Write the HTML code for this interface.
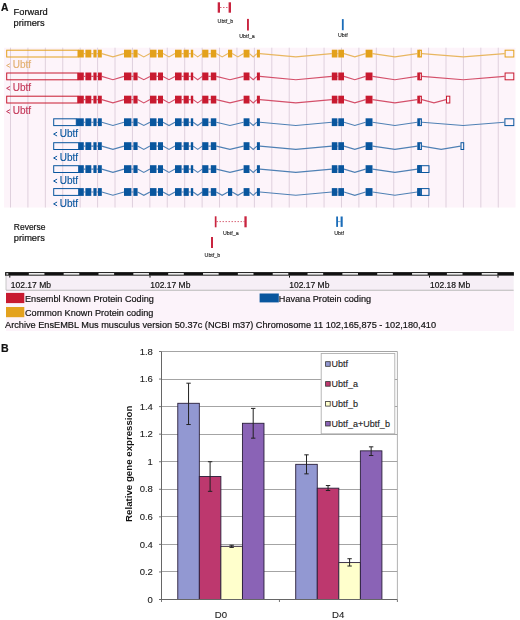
<!DOCTYPE html>
<html><head><meta charset="utf-8"><style>
html,body{margin:0;padding:0;background:#fff;}
body{width:520px;height:620px;overflow:hidden;}
svg{display:block;filter:blur(0.3px);font-family:"Liberation Sans",sans-serif;}
</style></head><body>
<svg width="520" height="620" viewBox="0 0 520 620">
<rect x="4" y="47.7" width="511.5" height="159.8" fill="#fdf4fa"/>
<line x1="10.50" y1="47.7" x2="10.50" y2="207.5" stroke="#dfd0dd" stroke-width="1"/>
<line x1="27.92" y1="47.7" x2="27.92" y2="207.5" stroke="#dfd0dd" stroke-width="1"/>
<line x1="45.34" y1="47.7" x2="45.34" y2="207.5" stroke="#dfd0dd" stroke-width="1"/>
<line x1="62.76" y1="47.7" x2="62.76" y2="207.5" stroke="#dfd0dd" stroke-width="1"/>
<line x1="80.18" y1="47.7" x2="80.18" y2="207.5" stroke="#dfd0dd" stroke-width="1"/>
<line x1="97.60" y1="47.7" x2="97.60" y2="207.5" stroke="#dfd0dd" stroke-width="1"/>
<line x1="115.02" y1="47.7" x2="115.02" y2="207.5" stroke="#dfd0dd" stroke-width="1"/>
<line x1="132.44" y1="47.7" x2="132.44" y2="207.5" stroke="#dfd0dd" stroke-width="1"/>
<line x1="149.86" y1="47.7" x2="149.86" y2="207.5" stroke="#dfd0dd" stroke-width="1"/>
<line x1="167.28" y1="47.7" x2="167.28" y2="207.5" stroke="#dfd0dd" stroke-width="1"/>
<line x1="184.70" y1="47.7" x2="184.70" y2="207.5" stroke="#dfd0dd" stroke-width="1"/>
<line x1="202.12" y1="47.7" x2="202.12" y2="207.5" stroke="#dfd0dd" stroke-width="1"/>
<line x1="219.54" y1="47.7" x2="219.54" y2="207.5" stroke="#dfd0dd" stroke-width="1"/>
<line x1="236.96" y1="47.7" x2="236.96" y2="207.5" stroke="#dfd0dd" stroke-width="1"/>
<line x1="254.38" y1="47.7" x2="254.38" y2="207.5" stroke="#dfd0dd" stroke-width="1"/>
<line x1="271.80" y1="47.7" x2="271.80" y2="207.5" stroke="#dfd0dd" stroke-width="1"/>
<line x1="289.22" y1="47.7" x2="289.22" y2="207.5" stroke="#dfd0dd" stroke-width="1"/>
<line x1="306.64" y1="47.7" x2="306.64" y2="207.5" stroke="#dfd0dd" stroke-width="1"/>
<line x1="324.06" y1="47.7" x2="324.06" y2="207.5" stroke="#dfd0dd" stroke-width="1"/>
<line x1="341.48" y1="47.7" x2="341.48" y2="207.5" stroke="#dfd0dd" stroke-width="1"/>
<line x1="358.90" y1="47.7" x2="358.90" y2="207.5" stroke="#dfd0dd" stroke-width="1"/>
<line x1="376.32" y1="47.7" x2="376.32" y2="207.5" stroke="#dfd0dd" stroke-width="1"/>
<line x1="393.74" y1="47.7" x2="393.74" y2="207.5" stroke="#dfd0dd" stroke-width="1"/>
<line x1="411.16" y1="47.7" x2="411.16" y2="207.5" stroke="#dfd0dd" stroke-width="1"/>
<line x1="428.58" y1="47.7" x2="428.58" y2="207.5" stroke="#dfd0dd" stroke-width="1"/>
<line x1="446.00" y1="47.7" x2="446.00" y2="207.5" stroke="#dfd0dd" stroke-width="1"/>
<line x1="463.42" y1="47.7" x2="463.42" y2="207.5" stroke="#dfd0dd" stroke-width="1"/>
<line x1="480.84" y1="47.7" x2="480.84" y2="207.5" stroke="#dfd0dd" stroke-width="1"/>
<line x1="498.26" y1="47.7" x2="498.26" y2="207.5" stroke="#dfd0dd" stroke-width="1"/>
<rect x="6.70" y="50.20" width="71.30" height="6.80" fill="none" stroke="#e3a11c" stroke-width="1"/>
<path d="M83.80,53.60 L85.40,53.60 M91.30,53.60 L93.40,53.60 M96.60,53.60 L98.00,53.60 M101.80,53.60 L112.90,56.90 L124.00,53.60 M131.40,53.60 L133.40,53.60 M137.60,53.60 L143.80,56.90 L150.00,53.60 M156.50,53.60 L158.00,53.60 M163.00,53.60 L169.00,56.90 L175.00,53.60 M181.60,53.60 L183.60,53.60 M188.80,53.60 L190.80,53.60 M193.20,53.60 L197.70,56.90 L202.20,53.60 M208.40,53.60 L210.80,53.60 M216.30,53.60 L222.15,56.90 L228.00,53.60 M232.20,53.60 L237.90,56.90 L243.60,53.60 M249.50,53.60 L253.20,56.90 L256.90,53.60 M259.90,53.60 L295.85,56.90 L331.80,53.60 M337.40,53.60 L338.30,53.60 M344.00,53.60 L354.80,56.90 L365.60,53.60 M372.50,53.60 L394.90,56.90 L417.30,53.60 M421.90,53.60 L463.25,56.90 L504.60,53.60" fill="none" stroke="#e8b660" stroke-width="1.1"/>
<rect x="78.00" y="49.70" width="5.80" height="7.80" fill="#e3a11c"/>
<rect x="85.40" y="49.70" width="5.90" height="7.80" fill="#e3a11c"/>
<rect x="93.40" y="49.70" width="3.20" height="7.80" fill="#e3a11c"/>
<rect x="98.00" y="49.70" width="3.80" height="7.80" fill="#e3a11c"/>
<rect x="124.00" y="49.70" width="7.40" height="7.80" fill="#e3a11c"/>
<rect x="133.40" y="49.70" width="4.20" height="7.80" fill="#e3a11c"/>
<rect x="150.00" y="49.70" width="6.50" height="7.80" fill="#e3a11c"/>
<rect x="158.00" y="49.70" width="5.00" height="7.80" fill="#e3a11c"/>
<rect x="175.00" y="49.70" width="6.60" height="7.80" fill="#e3a11c"/>
<rect x="183.60" y="49.70" width="5.20" height="7.80" fill="#e3a11c"/>
<rect x="190.80" y="49.70" width="2.40" height="7.80" fill="#e3a11c"/>
<rect x="202.20" y="49.70" width="6.20" height="7.80" fill="#e3a11c"/>
<rect x="210.80" y="49.70" width="5.50" height="7.80" fill="#e3a11c"/>
<rect x="228.00" y="49.70" width="4.20" height="7.80" fill="#e3a11c"/>
<rect x="243.60" y="49.70" width="5.90" height="7.80" fill="#e3a11c"/>
<rect x="256.90" y="49.70" width="3.00" height="7.80" fill="#e3a11c"/>
<rect x="331.80" y="49.70" width="5.60" height="7.80" fill="#e3a11c"/>
<rect x="338.30" y="49.70" width="5.70" height="7.80" fill="#e3a11c"/>
<rect x="365.60" y="49.70" width="6.90" height="7.80" fill="#e3a11c"/>
<rect x="417.30" y="49.70" width="2.40" height="7.80" fill="#e3a11c"/>
<rect x="419.70" y="50.20" width="1.70" height="6.80" fill="none" stroke="#e3a11c" stroke-width="1"/>
<rect x="505.10" y="50.20" width="8.70" height="6.80" fill="none" stroke="#e3a11c" stroke-width="1"/>
<path d="M10.10,63.60 L6.60,65.50 L10.10,67.40" fill="none" stroke="#e2b070" stroke-width="1.0"/>
<text x="12.80" y="68.20" font-size="10" fill="#e2b070" stroke="#e2b070" stroke-width="0.15">Ubtf</text>
<rect x="6.70" y="73.00" width="71.10" height="6.80" fill="none" stroke="#c81a30" stroke-width="1"/>
<path d="M83.80,76.40 L85.40,76.40 M91.30,76.40 L93.40,76.40 M96.60,76.40 L98.00,76.40 M101.80,76.40 L112.90,79.70 L124.00,76.40 M131.40,76.40 L133.40,76.40 M137.60,76.40 L143.80,79.70 L150.00,76.40 M156.50,76.40 L158.00,76.40 M163.00,76.40 L169.00,79.70 L175.00,76.40 M181.60,76.40 L183.60,76.40 M188.80,76.40 L190.80,76.40 M193.20,76.40 L197.70,79.70 L202.20,76.40 M208.40,76.40 L210.80,76.40 M216.30,76.40 L229.95,79.70 L243.60,76.40 M249.50,76.40 L253.20,79.70 L256.90,76.40 M259.90,76.40 L295.85,79.70 L331.80,76.40 M337.40,76.40 L338.30,76.40 M344.00,76.40 L354.80,79.70 L365.60,76.40 M372.50,76.40 L394.90,79.70 L417.30,76.40 M421.90,76.40 L463.25,79.70 L504.60,76.40" fill="none" stroke="#d4506a" stroke-width="1.1"/>
<rect x="77.80" y="72.50" width="6.00" height="7.80" fill="#c81a30"/>
<rect x="85.40" y="72.50" width="5.90" height="7.80" fill="#c81a30"/>
<rect x="93.40" y="72.50" width="3.20" height="7.80" fill="#c81a30"/>
<rect x="98.00" y="72.50" width="3.80" height="7.80" fill="#c81a30"/>
<rect x="124.00" y="72.50" width="7.40" height="7.80" fill="#c81a30"/>
<rect x="133.40" y="72.50" width="4.20" height="7.80" fill="#c81a30"/>
<rect x="150.00" y="72.50" width="6.50" height="7.80" fill="#c81a30"/>
<rect x="158.00" y="72.50" width="5.00" height="7.80" fill="#c81a30"/>
<rect x="175.00" y="72.50" width="6.60" height="7.80" fill="#c81a30"/>
<rect x="183.60" y="72.50" width="5.20" height="7.80" fill="#c81a30"/>
<rect x="190.80" y="72.50" width="2.40" height="7.80" fill="#c81a30"/>
<rect x="202.20" y="72.50" width="6.20" height="7.80" fill="#c81a30"/>
<rect x="210.80" y="72.50" width="5.50" height="7.80" fill="#c81a30"/>
<rect x="243.60" y="72.50" width="5.90" height="7.80" fill="#c81a30"/>
<rect x="256.90" y="72.50" width="3.00" height="7.80" fill="#c81a30"/>
<rect x="331.80" y="72.50" width="5.60" height="7.80" fill="#c81a30"/>
<rect x="338.30" y="72.50" width="5.70" height="7.80" fill="#c81a30"/>
<rect x="365.60" y="72.50" width="6.90" height="7.80" fill="#c81a30"/>
<rect x="417.30" y="72.50" width="2.40" height="7.80" fill="#c81a30"/>
<rect x="419.70" y="73.00" width="1.70" height="6.80" fill="none" stroke="#c81a30" stroke-width="1"/>
<rect x="505.10" y="73.00" width="8.70" height="6.80" fill="none" stroke="#c81a30" stroke-width="1"/>
<path d="M10.10,86.40 L6.60,88.30 L10.10,90.20" fill="none" stroke="#c4395a" stroke-width="1.0"/>
<text x="12.80" y="91.00" font-size="10" fill="#c4395a" stroke="#c4395a" stroke-width="0.15">Ubtf</text>
<rect x="6.70" y="96.20" width="71.10" height="6.80" fill="none" stroke="#c81a30" stroke-width="1"/>
<path d="M83.80,99.60 L85.40,99.60 M91.30,99.60 L93.40,99.60 M96.60,99.60 L98.00,99.60 M101.80,99.60 L112.90,102.90 L124.00,99.60 M131.40,99.60 L133.40,99.60 M137.60,99.60 L143.80,102.90 L150.00,99.60 M156.50,99.60 L158.00,99.60 M163.00,99.60 L169.00,102.90 L175.00,99.60 M181.60,99.60 L183.60,99.60 M188.80,99.60 L190.80,99.60 M193.20,99.60 L197.70,102.90 L202.20,99.60 M208.40,99.60 L210.80,99.60 M216.30,99.60 L229.95,102.90 L243.60,99.60 M249.50,99.60 L253.20,102.90 L256.90,99.60 M259.90,99.60 L295.85,102.90 L331.80,99.60 M337.40,99.60 L338.30,99.60 M344.00,99.60 L354.80,102.90 L365.60,99.60 M372.50,99.60 L394.90,102.90 L417.30,99.60 M421.90,99.60 L433.95,102.90 L446.00,99.60" fill="none" stroke="#d4506a" stroke-width="1.1"/>
<rect x="77.80" y="95.70" width="6.00" height="7.80" fill="#c81a30"/>
<rect x="85.40" y="95.70" width="5.90" height="7.80" fill="#c81a30"/>
<rect x="93.40" y="95.70" width="3.20" height="7.80" fill="#c81a30"/>
<rect x="98.00" y="95.70" width="3.80" height="7.80" fill="#c81a30"/>
<rect x="124.00" y="95.70" width="7.40" height="7.80" fill="#c81a30"/>
<rect x="133.40" y="95.70" width="4.20" height="7.80" fill="#c81a30"/>
<rect x="150.00" y="95.70" width="6.50" height="7.80" fill="#c81a30"/>
<rect x="158.00" y="95.70" width="5.00" height="7.80" fill="#c81a30"/>
<rect x="175.00" y="95.70" width="6.60" height="7.80" fill="#c81a30"/>
<rect x="183.60" y="95.70" width="5.20" height="7.80" fill="#c81a30"/>
<rect x="190.80" y="95.70" width="2.40" height="7.80" fill="#c81a30"/>
<rect x="202.20" y="95.70" width="6.20" height="7.80" fill="#c81a30"/>
<rect x="210.80" y="95.70" width="5.50" height="7.80" fill="#c81a30"/>
<rect x="243.60" y="95.70" width="5.90" height="7.80" fill="#c81a30"/>
<rect x="256.90" y="95.70" width="3.00" height="7.80" fill="#c81a30"/>
<rect x="331.80" y="95.70" width="5.60" height="7.80" fill="#c81a30"/>
<rect x="338.30" y="95.70" width="5.70" height="7.80" fill="#c81a30"/>
<rect x="365.60" y="95.70" width="6.90" height="7.80" fill="#c81a30"/>
<rect x="417.30" y="95.70" width="2.40" height="7.80" fill="#c81a30"/>
<rect x="419.70" y="96.20" width="1.70" height="6.80" fill="none" stroke="#c81a30" stroke-width="1"/>
<rect x="446.50" y="96.20" width="3.30" height="6.80" fill="none" stroke="#c81a30" stroke-width="1"/>
<path d="M10.10,109.60 L6.60,111.50 L10.10,113.40" fill="none" stroke="#c4395a" stroke-width="1.0"/>
<text x="12.80" y="114.20" font-size="10" fill="#c4395a" stroke="#c4395a" stroke-width="0.15">Ubtf</text>
<rect x="53.70" y="118.80" width="22.60" height="6.80" fill="none" stroke="#09569e" stroke-width="1"/>
<path d="M83.80,122.20 L85.40,122.20 M91.30,122.20 L93.40,122.20 M96.60,122.20 L98.00,122.20 M101.80,122.20 L112.90,125.50 L124.00,122.20 M131.40,122.20 L133.40,122.20 M137.60,122.20 L143.80,125.50 L150.00,122.20 M156.50,122.20 L158.00,122.20 M163.00,122.20 L169.00,125.50 L175.00,122.20 M181.60,122.20 L183.60,122.20 M188.80,122.20 L190.80,122.20 M193.20,122.20 L197.70,125.50 L202.20,122.20 M208.40,122.20 L210.80,122.20 M216.30,122.20 L229.95,125.50 L243.60,122.20 M249.50,122.20 L253.20,125.50 L256.90,122.20 M259.90,122.20 L295.85,125.50 L331.80,122.20 M337.40,122.20 L338.30,122.20 M344.00,122.20 L354.80,125.50 L365.60,122.20 M372.50,122.20 L394.90,125.50 L417.30,122.20 M421.90,122.20 L463.15,125.50 L504.40,122.20" fill="none" stroke="#4f80b4" stroke-width="1.1"/>
<rect x="76.30" y="118.30" width="7.50" height="7.80" fill="#09569e"/>
<rect x="85.40" y="118.30" width="5.90" height="7.80" fill="#09569e"/>
<rect x="93.40" y="118.30" width="3.20" height="7.80" fill="#09569e"/>
<rect x="98.00" y="118.30" width="3.80" height="7.80" fill="#09569e"/>
<rect x="124.00" y="118.30" width="7.40" height="7.80" fill="#09569e"/>
<rect x="133.40" y="118.30" width="4.20" height="7.80" fill="#09569e"/>
<rect x="150.00" y="118.30" width="6.50" height="7.80" fill="#09569e"/>
<rect x="158.00" y="118.30" width="5.00" height="7.80" fill="#09569e"/>
<rect x="175.00" y="118.30" width="6.60" height="7.80" fill="#09569e"/>
<rect x="183.60" y="118.30" width="5.20" height="7.80" fill="#09569e"/>
<rect x="190.80" y="118.30" width="2.40" height="7.80" fill="#09569e"/>
<rect x="202.20" y="118.30" width="6.20" height="7.80" fill="#09569e"/>
<rect x="210.80" y="118.30" width="5.50" height="7.80" fill="#09569e"/>
<rect x="243.60" y="118.30" width="5.90" height="7.80" fill="#09569e"/>
<rect x="256.90" y="118.30" width="3.00" height="7.80" fill="#09569e"/>
<rect x="331.80" y="118.30" width="5.60" height="7.80" fill="#09569e"/>
<rect x="338.30" y="118.30" width="5.70" height="7.80" fill="#09569e"/>
<rect x="365.60" y="118.30" width="6.90" height="7.80" fill="#09569e"/>
<rect x="417.30" y="118.30" width="2.40" height="7.80" fill="#09569e"/>
<rect x="419.70" y="118.80" width="1.70" height="6.80" fill="none" stroke="#09569e" stroke-width="1"/>
<rect x="504.90" y="118.80" width="8.90" height="6.80" fill="none" stroke="#09569e" stroke-width="1"/>
<path d="M57.10,132.20 L53.60,134.10 L57.10,136.00" fill="none" stroke="#09569e" stroke-width="1.0"/>
<text x="59.80" y="136.80" font-size="10" fill="#09569e" stroke="#09569e" stroke-width="0.15">Ubtf</text>
<rect x="53.70" y="142.70" width="25.00" height="6.80" fill="none" stroke="#09569e" stroke-width="1"/>
<path d="M83.80,146.10 L85.40,146.10 M91.30,146.10 L93.40,146.10 M96.60,146.10 L98.00,146.10 M101.80,146.10 L112.90,149.40 L124.00,146.10 M131.40,146.10 L133.40,146.10 M137.60,146.10 L143.80,149.40 L150.00,146.10 M156.50,146.10 L158.00,146.10 M163.00,146.10 L169.00,149.40 L175.00,146.10 M181.60,146.10 L183.60,146.10 M188.80,146.10 L190.80,146.10 M193.20,146.10 L197.70,149.40 L202.20,146.10 M208.40,146.10 L210.80,146.10 M216.30,146.10 L229.95,149.40 L243.60,146.10 M249.50,146.10 L253.20,149.40 L256.90,146.10 M259.90,146.10 L295.85,149.40 L331.80,146.10 M337.40,146.10 L338.30,146.10 M344.00,146.10 L354.80,149.40 L365.60,146.10 M372.50,146.10 L394.90,149.40 L417.30,146.10 M421.90,146.10 L441.20,149.40 L460.50,146.10" fill="none" stroke="#4f80b4" stroke-width="1.1"/>
<rect x="78.70" y="142.20" width="5.10" height="7.80" fill="#09569e"/>
<rect x="85.40" y="142.20" width="5.90" height="7.80" fill="#09569e"/>
<rect x="93.40" y="142.20" width="3.20" height="7.80" fill="#09569e"/>
<rect x="98.00" y="142.20" width="3.80" height="7.80" fill="#09569e"/>
<rect x="124.00" y="142.20" width="7.40" height="7.80" fill="#09569e"/>
<rect x="133.40" y="142.20" width="4.20" height="7.80" fill="#09569e"/>
<rect x="150.00" y="142.20" width="6.50" height="7.80" fill="#09569e"/>
<rect x="158.00" y="142.20" width="5.00" height="7.80" fill="#09569e"/>
<rect x="175.00" y="142.20" width="6.60" height="7.80" fill="#09569e"/>
<rect x="183.60" y="142.20" width="5.20" height="7.80" fill="#09569e"/>
<rect x="190.80" y="142.20" width="2.40" height="7.80" fill="#09569e"/>
<rect x="202.20" y="142.20" width="6.20" height="7.80" fill="#09569e"/>
<rect x="210.80" y="142.20" width="5.50" height="7.80" fill="#09569e"/>
<rect x="243.60" y="142.20" width="5.90" height="7.80" fill="#09569e"/>
<rect x="256.90" y="142.20" width="3.00" height="7.80" fill="#09569e"/>
<rect x="331.80" y="142.20" width="5.60" height="7.80" fill="#09569e"/>
<rect x="338.30" y="142.20" width="5.70" height="7.80" fill="#09569e"/>
<rect x="365.60" y="142.20" width="6.90" height="7.80" fill="#09569e"/>
<rect x="417.30" y="142.20" width="2.40" height="7.80" fill="#09569e"/>
<rect x="419.70" y="142.70" width="1.70" height="6.80" fill="none" stroke="#09569e" stroke-width="1"/>
<rect x="461.00" y="142.70" width="2.70" height="6.80" fill="none" stroke="#09569e" stroke-width="1"/>
<path d="M57.10,156.10 L53.60,158.00 L57.10,159.90" fill="none" stroke="#09569e" stroke-width="1.0"/>
<text x="59.80" y="160.70" font-size="10" fill="#09569e" stroke="#09569e" stroke-width="0.15">Ubtf</text>
<rect x="53.70" y="165.70" width="25.00" height="6.80" fill="none" stroke="#09569e" stroke-width="1"/>
<path d="M83.80,169.10 L85.40,169.10 M91.30,169.10 L93.40,169.10 M96.60,169.10 L98.00,169.10 M101.80,169.10 L112.90,172.40 L124.00,169.10 M131.40,169.10 L133.40,169.10 M137.60,169.10 L143.80,172.40 L150.00,169.10 M156.50,169.10 L158.00,169.10 M163.00,169.10 L169.00,172.40 L175.00,169.10 M181.60,169.10 L183.60,169.10 M188.80,169.10 L190.80,169.10 M193.20,169.10 L197.70,172.40 L202.20,169.10 M208.40,169.10 L210.80,169.10 M216.30,169.10 L229.95,172.40 L243.60,169.10 M249.50,169.10 L253.20,172.40 L256.90,169.10 M259.90,169.10 L295.85,172.40 L331.80,169.10 M337.40,169.10 L338.30,169.10 M344.00,169.10 L354.80,172.40 L365.60,169.10 M372.50,169.10 L394.90,172.40 L417.30,169.10" fill="none" stroke="#4f80b4" stroke-width="1.1"/>
<rect x="78.70" y="165.20" width="5.10" height="7.80" fill="#09569e"/>
<rect x="85.40" y="165.20" width="5.90" height="7.80" fill="#09569e"/>
<rect x="93.40" y="165.20" width="3.20" height="7.80" fill="#09569e"/>
<rect x="98.00" y="165.20" width="3.80" height="7.80" fill="#09569e"/>
<rect x="124.00" y="165.20" width="7.40" height="7.80" fill="#09569e"/>
<rect x="133.40" y="165.20" width="4.20" height="7.80" fill="#09569e"/>
<rect x="150.00" y="165.20" width="6.50" height="7.80" fill="#09569e"/>
<rect x="158.00" y="165.20" width="5.00" height="7.80" fill="#09569e"/>
<rect x="175.00" y="165.20" width="6.60" height="7.80" fill="#09569e"/>
<rect x="183.60" y="165.20" width="5.20" height="7.80" fill="#09569e"/>
<rect x="190.80" y="165.20" width="2.40" height="7.80" fill="#09569e"/>
<rect x="202.20" y="165.20" width="6.20" height="7.80" fill="#09569e"/>
<rect x="210.80" y="165.20" width="5.50" height="7.80" fill="#09569e"/>
<rect x="243.60" y="165.20" width="5.90" height="7.80" fill="#09569e"/>
<rect x="256.90" y="165.20" width="3.00" height="7.80" fill="#09569e"/>
<rect x="331.80" y="165.20" width="5.60" height="7.80" fill="#09569e"/>
<rect x="338.30" y="165.20" width="5.70" height="7.80" fill="#09569e"/>
<rect x="365.60" y="165.20" width="6.90" height="7.80" fill="#09569e"/>
<rect x="417.30" y="165.20" width="2.40" height="7.80" fill="#09569e"/>
<rect x="419.70" y="165.70" width="1.70" height="6.80" fill="none" stroke="#09569e" stroke-width="1"/>
<rect x="419.50" y="165.70" width="9.50" height="6.80" fill="none" stroke="#09569e" stroke-width="1"/>
<rect x="417.30" y="165.20" width="3.50" height="7.80" fill="#09569e"/>
<path d="M57.10,179.10 L53.60,181.00 L57.10,182.90" fill="none" stroke="#09569e" stroke-width="1.0"/>
<text x="59.80" y="183.70" font-size="10" fill="#09569e" stroke="#09569e" stroke-width="0.15">Ubtf</text>
<rect x="53.70" y="188.60" width="25.00" height="6.80" fill="none" stroke="#09569e" stroke-width="1"/>
<path d="M83.80,192.00 L85.40,192.00 M91.30,192.00 L93.40,192.00 M96.60,192.00 L98.00,192.00 M101.80,192.00 L112.90,195.30 L124.00,192.00 M131.40,192.00 L133.40,192.00 M137.60,192.00 L143.80,195.30 L150.00,192.00 M156.50,192.00 L158.00,192.00 M163.00,192.00 L169.00,195.30 L175.00,192.00 M181.60,192.00 L183.60,192.00 M188.80,192.00 L190.80,192.00 M193.20,192.00 L197.70,195.30 L202.20,192.00 M208.40,192.00 L210.80,192.00 M216.30,192.00 L222.15,195.30 L228.00,192.00 M232.20,192.00 L237.90,195.30 L243.60,192.00 M249.50,192.00 L253.20,195.30 L256.90,192.00 M259.90,192.00 L295.85,195.30 L331.80,192.00 M337.40,192.00 L338.30,192.00 M344.00,192.00 L354.80,195.30 L365.60,192.00 M372.50,192.00 L394.90,195.30 L417.30,192.00" fill="none" stroke="#4f80b4" stroke-width="1.1"/>
<rect x="78.70" y="188.10" width="5.10" height="7.80" fill="#09569e"/>
<rect x="85.40" y="188.10" width="5.90" height="7.80" fill="#09569e"/>
<rect x="93.40" y="188.10" width="3.20" height="7.80" fill="#09569e"/>
<rect x="98.00" y="188.10" width="3.80" height="7.80" fill="#09569e"/>
<rect x="124.00" y="188.10" width="7.40" height="7.80" fill="#09569e"/>
<rect x="133.40" y="188.10" width="4.20" height="7.80" fill="#09569e"/>
<rect x="150.00" y="188.10" width="6.50" height="7.80" fill="#09569e"/>
<rect x="158.00" y="188.10" width="5.00" height="7.80" fill="#09569e"/>
<rect x="175.00" y="188.10" width="6.60" height="7.80" fill="#09569e"/>
<rect x="183.60" y="188.10" width="5.20" height="7.80" fill="#09569e"/>
<rect x="190.80" y="188.10" width="2.40" height="7.80" fill="#09569e"/>
<rect x="202.20" y="188.10" width="6.20" height="7.80" fill="#09569e"/>
<rect x="210.80" y="188.10" width="5.50" height="7.80" fill="#09569e"/>
<rect x="228.00" y="188.10" width="4.20" height="7.80" fill="#09569e"/>
<rect x="243.60" y="188.10" width="5.90" height="7.80" fill="#09569e"/>
<rect x="256.90" y="188.10" width="3.00" height="7.80" fill="#09569e"/>
<rect x="331.80" y="188.10" width="5.60" height="7.80" fill="#09569e"/>
<rect x="338.30" y="188.10" width="5.70" height="7.80" fill="#09569e"/>
<rect x="365.60" y="188.10" width="6.90" height="7.80" fill="#09569e"/>
<rect x="417.30" y="188.10" width="2.40" height="7.80" fill="#09569e"/>
<rect x="419.70" y="188.60" width="1.70" height="6.80" fill="none" stroke="#09569e" stroke-width="1"/>
<rect x="419.50" y="188.60" width="9.50" height="6.80" fill="none" stroke="#09569e" stroke-width="1"/>
<rect x="417.30" y="188.10" width="3.50" height="7.80" fill="#09569e"/>
<path d="M57.10,202.00 L53.60,203.90 L57.10,205.80" fill="none" stroke="#09569e" stroke-width="1.0"/>
<text x="59.80" y="206.60" font-size="10" fill="#09569e" stroke="#09569e" stroke-width="0.15">Ubtf</text>
<text x="1.1" y="11" font-size="10.3" font-weight="bold" fill="#111" stroke="#111" stroke-width="0.2">A</text>
<text x="13.6" y="14.8" font-size="9.3" fill="#111" stroke="#111" stroke-width="0.2">Forward</text>
<text x="13.6" y="26.3" font-size="9.3" fill="#111" stroke="#111" stroke-width="0.2">primers</text>
<text x="13.8" y="229.9" font-size="9.3" fill="#111" stroke="#111" stroke-width="0.2" textLength="31.6" lengthAdjust="spacingAndGlyphs">Reverse</text>
<text x="13.8" y="241.4" font-size="9.3" fill="#111" stroke="#111" stroke-width="0.2">primers</text>
<rect x="217.7" y="2.3" width="2.3" height="10.4" fill="#c9243f"/>
<rect x="228.6" y="2.3" width="2.4" height="10.4" fill="#c9243f"/>
<line x1="220" y1="7.5" x2="228.6" y2="7.5" stroke="#c9243f" stroke-width="0.7" stroke-dasharray="1.5,1.5"/>
<text x="225.4" y="23" font-size="5.3" text-anchor="middle" fill="#222" stroke="#222" stroke-width="0.12">Ubtf_b</text>
<rect x="247" y="18.9" width="1.9" height="11.6" fill="#c9243f"/>
<text x="247" y="38" font-size="5.3" text-anchor="middle" fill="#222" stroke="#222" stroke-width="0.12">Ubtf_a</text>
<rect x="341.9" y="19.1" width="1.8" height="11.1" fill="#1a6cb8"/>
<text x="342.8" y="37.4" font-size="5.3" text-anchor="middle" fill="#222" stroke="#222" stroke-width="0.12">Ubtf</text>
<rect x="214.8" y="216.3" width="1.7" height="11" fill="#c9243f"/>
<rect x="244.4" y="216.3" width="2.3" height="11" fill="#c9243f"/>
<line x1="216.5" y1="221.6" x2="244.4" y2="221.6" stroke="#c9243f" stroke-width="0.7" stroke-dasharray="1.5,1.5"/>
<text x="230.8" y="234.8" font-size="5.3" text-anchor="middle" fill="#222" stroke="#222" stroke-width="0.12">Ubtf_a</text>
<rect x="211" y="237" width="2" height="11" fill="#c9243f"/>
<text x="212.4" y="256.7" font-size="5.3" text-anchor="middle" fill="#222" stroke="#222" stroke-width="0.12">Ubtf_b</text>
<rect x="336.2" y="216.5" width="1.8" height="10.4" fill="#1a6cb8"/>
<rect x="340.6" y="216.5" width="2.1" height="10.4" fill="#1a6cb8"/>
<line x1="338" y1="221.6" x2="340.6" y2="221.6" stroke="#1a6cb8" stroke-width="0.6"/>
<text x="339" y="234.6" font-size="5.3" text-anchor="middle" fill="#222" stroke="#222" stroke-width="0.12">Ubtf</text>
<rect x="5.1" y="272.1" width="508.8" height="3.7" fill="#111"/>
<rect x="6.3" y="273.1" width="2" height="1.6" fill="#ddd"/>
<rect x="28.82" y="273.0" width="15.62" height="1.7" fill="#ececec"/>
<rect x="63.66" y="273.0" width="15.62" height="1.7" fill="#ececec"/>
<rect x="98.50" y="273.0" width="15.62" height="1.7" fill="#ececec"/>
<rect x="133.34" y="273.0" width="15.62" height="1.7" fill="#ececec"/>
<rect x="168.18" y="273.0" width="15.62" height="1.7" fill="#ececec"/>
<rect x="203.02" y="273.0" width="15.62" height="1.7" fill="#ececec"/>
<rect x="237.86" y="273.0" width="15.62" height="1.7" fill="#ececec"/>
<rect x="272.70" y="273.0" width="15.62" height="1.7" fill="#ececec"/>
<rect x="307.54" y="273.0" width="15.62" height="1.7" fill="#ececec"/>
<rect x="342.38" y="273.0" width="15.62" height="1.7" fill="#ececec"/>
<rect x="377.22" y="273.0" width="15.62" height="1.7" fill="#ececec"/>
<rect x="412.06" y="273.0" width="15.62" height="1.7" fill="#ececec"/>
<rect x="446.90" y="273.0" width="15.62" height="1.7" fill="#ececec"/>
<rect x="481.74" y="273.0" width="15.62" height="1.7" fill="#ececec"/>
<rect x="6" y="275.8" width="507.7" height="14.4" fill="#f6eff6"/>
<line x1="9.8" y1="275.5" x2="9.8" y2="277.6" stroke="#111" stroke-width="1"/>
<line x1="150.0" y1="275.5" x2="150.0" y2="277.6" stroke="#111" stroke-width="1"/>
<line x1="289.5" y1="275.5" x2="289.5" y2="277.6" stroke="#111" stroke-width="1"/>
<line x1="429.5" y1="275.5" x2="429.5" y2="277.6" stroke="#111" stroke-width="1"/>
<line x1="498.0" y1="275.5" x2="498.0" y2="277.6" stroke="#111" stroke-width="1"/>
<line x1="6" y1="276" x2="6" y2="290" stroke="#bbb" stroke-width="0.8"/>
<line x1="6" y1="290.3" x2="513.7" y2="290.3" stroke="#999" stroke-width="0.8"/>
<text x="10.8" y="288.2" font-size="8.5" fill="#111" stroke="#111" stroke-width="0.18">102.17 Mb</text>
<text x="150.2" y="288.2" font-size="8.5" fill="#111" stroke="#111" stroke-width="0.18">102.17 Mb</text>
<text x="289.2" y="288.2" font-size="8.5" fill="#111" stroke="#111" stroke-width="0.18">102.17 Mb</text>
<text x="430" y="288.2" font-size="8.5" fill="#111" stroke="#111" stroke-width="0.18">102.18 Mb</text>
<rect x="6" y="290.8" width="508" height="40.2" fill="#fcf3fa"/>
<rect x="6" y="292.9" width="18.3" height="10.2" fill="#c81a30"/>
<text x="25" y="301.8" font-size="9.15" fill="#111" stroke="#111" stroke-width="0.18">Ensembl Known Protein Coding</text>
<rect x="6" y="307" width="18.3" height="10.2" fill="#e3a21e"/>
<text x="25" y="315.6" font-size="9.15" fill="#111" stroke="#111" stroke-width="0.18">Common Known Protein coding</text>
<rect x="259.6" y="293.5" width="19.2" height="8.9" fill="#09569e"/>
<text x="278.8" y="301.8" font-size="9.15" fill="#111" stroke="#111" stroke-width="0.18">Havana Protein coding</text>
<text x="5" y="328" font-size="9.2" fill="#111" stroke="#111" stroke-width="0.18">Archive EnsEMBL Mus musculus version 50.37c (NCBI m37) Chromosome 11 102,165,875 - 102,180,410</text>
<text x="1.0" y="352.3" font-size="10.6" font-weight="bold" fill="#111" stroke="#111" stroke-width="0.2">B</text>
<line x1="161.5" y1="571.50" x2="397.4" y2="571.50" stroke="#a4a4a4" stroke-width="1"/>
<line x1="161.5" y1="544.50" x2="397.4" y2="544.50" stroke="#a4a4a4" stroke-width="1"/>
<line x1="161.5" y1="516.50" x2="397.4" y2="516.50" stroke="#a4a4a4" stroke-width="1"/>
<line x1="161.5" y1="489.50" x2="397.4" y2="489.50" stroke="#a4a4a4" stroke-width="1"/>
<line x1="161.5" y1="461.50" x2="397.4" y2="461.50" stroke="#a4a4a4" stroke-width="1"/>
<line x1="161.5" y1="434.50" x2="397.4" y2="434.50" stroke="#a4a4a4" stroke-width="1"/>
<line x1="161.5" y1="406.50" x2="397.4" y2="406.50" stroke="#a4a4a4" stroke-width="1"/>
<line x1="161.5" y1="379.50" x2="397.4" y2="379.50" stroke="#a4a4a4" stroke-width="1"/>
<line x1="161.5" y1="351.50" x2="397.4" y2="351.50" stroke="#a4a4a4" stroke-width="1"/>
<line x1="397.4" y1="351.50" x2="397.4" y2="599.50" stroke="#a8a8a8" stroke-width="0.9"/>
<line x1="159" y1="599.50" x2="161.5" y2="599.50" stroke="#666" stroke-width="0.9"/>
<text x="152.9" y="602.65" font-size="9.5" text-anchor="end" fill="#222" stroke="#222" stroke-width="0.12">0</text>
<line x1="159" y1="571.94" x2="161.5" y2="571.94" stroke="#666" stroke-width="0.9"/>
<text x="152.9" y="575.09" font-size="9.5" text-anchor="end" fill="#222" stroke="#222" stroke-width="0.12">0.2</text>
<line x1="159" y1="544.39" x2="161.5" y2="544.39" stroke="#666" stroke-width="0.9"/>
<text x="152.9" y="547.54" font-size="9.5" text-anchor="end" fill="#222" stroke="#222" stroke-width="0.12">0.4</text>
<line x1="159" y1="516.83" x2="161.5" y2="516.83" stroke="#666" stroke-width="0.9"/>
<text x="152.9" y="519.98" font-size="9.5" text-anchor="end" fill="#222" stroke="#222" stroke-width="0.12">0.6</text>
<line x1="159" y1="489.28" x2="161.5" y2="489.28" stroke="#666" stroke-width="0.9"/>
<text x="152.9" y="492.43" font-size="9.5" text-anchor="end" fill="#222" stroke="#222" stroke-width="0.12">0.8</text>
<line x1="159" y1="461.72" x2="161.5" y2="461.72" stroke="#666" stroke-width="0.9"/>
<text x="152.9" y="464.87" font-size="9.5" text-anchor="end" fill="#222" stroke="#222" stroke-width="0.12">1</text>
<line x1="159" y1="434.17" x2="161.5" y2="434.17" stroke="#666" stroke-width="0.9"/>
<text x="152.9" y="437.32" font-size="9.5" text-anchor="end" fill="#222" stroke="#222" stroke-width="0.12">1.2</text>
<line x1="159" y1="406.61" x2="161.5" y2="406.61" stroke="#666" stroke-width="0.9"/>
<text x="152.9" y="409.76" font-size="9.5" text-anchor="end" fill="#222" stroke="#222" stroke-width="0.12">1.4</text>
<line x1="159" y1="379.06" x2="161.5" y2="379.06" stroke="#666" stroke-width="0.9"/>
<text x="152.9" y="382.21" font-size="9.5" text-anchor="end" fill="#222" stroke="#222" stroke-width="0.12">1.6</text>
<line x1="159" y1="351.50" x2="161.5" y2="351.50" stroke="#666" stroke-width="0.9"/>
<text x="152.9" y="354.65" font-size="9.5" text-anchor="end" fill="#222" stroke="#222" stroke-width="0.12">1.8</text>
<rect x="177.78" y="403.30" width="21.55" height="196.20" fill="#9298d2" stroke="#2a1f3a" stroke-width="0.9"/>
<rect x="199.33" y="476.46" width="21.55" height="123.04" fill="#bd386e" stroke="#2a1f3a" stroke-width="0.9"/>
<rect x="220.88" y="546.32" width="21.55" height="53.18" fill="#ffffcc" stroke="#2a1f3a" stroke-width="0.9"/>
<rect x="242.43" y="423.28" width="21.55" height="176.22" fill="#8a63b6" stroke="#2a1f3a" stroke-width="0.9"/>
<line x1="188.55" y1="383.19" x2="188.55" y2="424.52" stroke="#222" stroke-width="1"/>
<line x1="186.35" y1="383.19" x2="190.75" y2="383.19" stroke="#222" stroke-width="1"/>
<line x1="186.35" y1="424.52" x2="190.75" y2="424.52" stroke="#222" stroke-width="1"/>
<line x1="210.10" y1="461.72" x2="210.10" y2="491.34" stroke="#222" stroke-width="1"/>
<line x1="207.90" y1="461.72" x2="212.30" y2="461.72" stroke="#222" stroke-width="1"/>
<line x1="207.90" y1="491.34" x2="212.30" y2="491.34" stroke="#222" stroke-width="1"/>
<line x1="231.65" y1="545.22" x2="231.65" y2="547.42" stroke="#222" stroke-width="1"/>
<line x1="229.45" y1="545.22" x2="233.85" y2="545.22" stroke="#222" stroke-width="1"/>
<line x1="229.45" y1="547.42" x2="233.85" y2="547.42" stroke="#222" stroke-width="1"/>
<line x1="253.20" y1="408.40" x2="253.20" y2="438.16" stroke="#222" stroke-width="1"/>
<line x1="251.00" y1="408.40" x2="255.40" y2="408.40" stroke="#222" stroke-width="1"/>
<line x1="251.00" y1="438.16" x2="255.40" y2="438.16" stroke="#222" stroke-width="1"/>
<rect x="295.72" y="464.34" width="21.55" height="135.16" fill="#9298d2" stroke="#2a1f3a" stroke-width="0.9"/>
<rect x="317.27" y="488.18" width="21.55" height="111.32" fill="#bd386e" stroke="#2a1f3a" stroke-width="0.9"/>
<rect x="338.82" y="562.58" width="21.55" height="36.92" fill="#ffffcc" stroke="#2a1f3a" stroke-width="0.9"/>
<rect x="360.37" y="450.84" width="21.55" height="148.66" fill="#8a63b6" stroke="#2a1f3a" stroke-width="0.9"/>
<line x1="306.50" y1="454.83" x2="306.50" y2="473.85" stroke="#222" stroke-width="1"/>
<line x1="304.30" y1="454.83" x2="308.70" y2="454.83" stroke="#222" stroke-width="1"/>
<line x1="304.30" y1="473.85" x2="308.70" y2="473.85" stroke="#222" stroke-width="1"/>
<line x1="328.05" y1="485.56" x2="328.05" y2="490.52" stroke="#222" stroke-width="1"/>
<line x1="325.85" y1="485.56" x2="330.25" y2="485.56" stroke="#222" stroke-width="1"/>
<line x1="325.85" y1="490.52" x2="330.25" y2="490.52" stroke="#222" stroke-width="1"/>
<line x1="349.60" y1="558.72" x2="349.60" y2="566.02" stroke="#222" stroke-width="1"/>
<line x1="347.40" y1="558.72" x2="351.80" y2="558.72" stroke="#222" stroke-width="1"/>
<line x1="347.40" y1="566.02" x2="351.80" y2="566.02" stroke="#222" stroke-width="1"/>
<line x1="371.15" y1="446.84" x2="371.15" y2="455.52" stroke="#222" stroke-width="1"/>
<line x1="368.95" y1="446.84" x2="373.35" y2="446.84" stroke="#222" stroke-width="1"/>
<line x1="368.95" y1="455.52" x2="373.35" y2="455.52" stroke="#222" stroke-width="1"/>
<line x1="161.5" y1="351.50" x2="161.5" y2="599.50" stroke="#666" stroke-width="1"/>
<line x1="159.0" y1="599.50" x2="397.4" y2="599.50" stroke="#666" stroke-width="1"/>
<line x1="161.50" y1="599.5" x2="161.50" y2="602.0" stroke="#666" stroke-width="0.9"/>
<line x1="279.45" y1="599.5" x2="279.45" y2="602.0" stroke="#666" stroke-width="0.9"/>
<line x1="397.40" y1="599.5" x2="397.40" y2="602.0" stroke="#666" stroke-width="0.9"/>
<text x="220.9" y="617.6" font-size="9.6" text-anchor="middle" fill="#222" stroke="#222" stroke-width="0.12">D0</text>
<text x="338.2" y="617.6" font-size="9.6" text-anchor="middle" fill="#222" stroke="#222" stroke-width="0.12">D4</text>
<text transform="translate(131.6,463.75) rotate(-90)" font-size="9.7" font-weight="bold" text-anchor="middle" fill="#111">Relative gene expression</text>
<rect x="321.2" y="353.5" width="73.6" height="80.3" fill="#fff" stroke="#b0b0b0" stroke-width="0.9"/>
<rect x="325.6" y="361.70" width="4.6" height="4.6" fill="#9298d2" stroke="#333" stroke-width="0.8"/>
<text x="331.6" y="367.30" font-size="9" fill="#222" stroke="#222" stroke-width="0.12">Ubtf</text>
<rect x="325.6" y="381.60" width="4.6" height="4.6" fill="#bd386e" stroke="#333" stroke-width="0.8"/>
<text x="331.6" y="387.20" font-size="9" fill="#222" stroke="#222" stroke-width="0.12">Ubtf_a</text>
<rect x="325.6" y="401.50" width="4.6" height="4.6" fill="#ffffcc" stroke="#333" stroke-width="0.8"/>
<text x="331.6" y="407.10" font-size="9" fill="#222" stroke="#222" stroke-width="0.12">Ubtf_b</text>
<rect x="325.6" y="421.40" width="4.6" height="4.6" fill="#8a63b6" stroke="#333" stroke-width="0.8"/>
<text x="331.6" y="427.00" font-size="9" fill="#222" stroke="#222" stroke-width="0.12">Ubtf_a+Ubtf_b</text>
</svg>
</body></html>
